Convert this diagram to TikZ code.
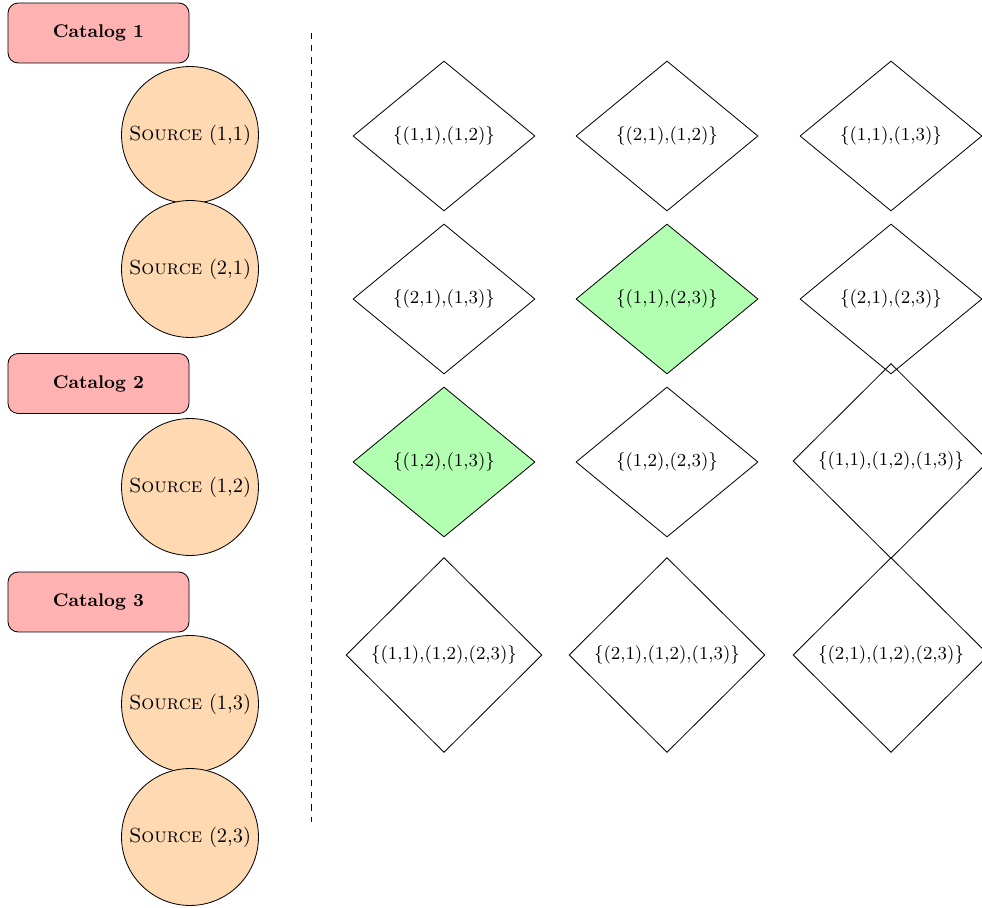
\documentclass[tikz,border=0pt]{standalone}
\usetikzlibrary{shapes.geometric}
\begin{document}
\begin{tikzpicture}[x=0.49pt,y=-0.49pt,
 catalog/.style={draw, rounded corners=5pt, fill=red!30, minimum width=88.7pt, minimum height=29.4pt, font=\small\bfseries, inner sep=0pt},
 source/.style={draw, circle, fill=orange!30, minimum size=67.1pt, inner sep=0pt},
 combo/.style={draw, diamond, minimum width=89.2pt, minimum height=73.5pt, inner sep=0pt, font=\small},
 big/.style={combo, minimum width=96pt, minimum height=95.5pt},
 chosen/.style={fill=green!30}]
\useasboundingbox (0,0) rectangle (982,908);
% catalogs and sources
\node[catalog] (c1) at (98.5,33) {Catalog 1};
\node[source] (s11) at (190,135) {\textsc{Source} (1,1)};
\node[source] (s21) at (190,269) {\textsc{Source} (2,1)};
\node[catalog] (c2) at (98.5,383.5) {Catalog 2};
\node[source] (s12) at (190,487) {\textsc{Source} (1,2)};
\node[catalog] (c3) at (98.5,602) {Catalog 3};
\node[source] (s13) at (190,704) {\textsc{Source} (1,3)};
\node[source] (s23) at (190,837) {\textsc{Source} (2,3)};
% separator
\coordinate (top) at (311,33);
\coordinate (bot) at (311,822);
\draw[dashed] (top) -- (bot);
% combinations
\node[combo] (d1) at (444,136) {\{(1,1),(1,2)\}};
\node[combo] (d2) at (667,136) {\{(2,1),(1,2)\}};
\node[combo] (d3) at (891,136) {\{(1,1),(1,3)\}};
\node[combo] (d4) at (444,299) {\{(2,1),(1,3)\}};
\node[combo,chosen] (d5) at (667,299) {\{(1,1),(2,3)\}};
\node[combo] (d6) at (891,299) {\{(2,1),(2,3)\}};
\node[combo,chosen] (d7) at (444,462) {\{(1,2),(1,3)\}};
\node[combo] (d8) at (667,462) {\{(1,2),(2,3)\}};
\node[big] (d9) at (891,461) {\{(1,1),(1,2),(1,3)\}};
\node[big] (d10) at (444,655) {\{(1,1),(1,2),(2,3)\}};
\node[big] (d11) at (667,655) {\{(2,1),(1,2),(1,3)\}};
\node[big] (d12) at (891,655) {\{(2,1),(1,2),(2,3)\}};
\end{tikzpicture}
\end{document}
